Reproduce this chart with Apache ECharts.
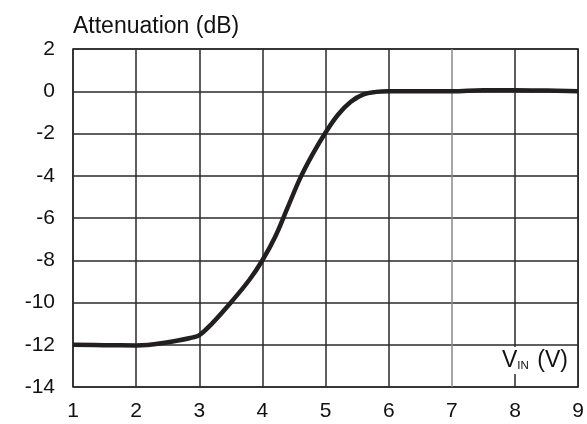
<!DOCTYPE html>
<html>
<head>
<meta charset="utf-8">
<script src="https://cdn.jsdelivr.net/npm/echarts@6/dist/echarts.min.js"></script>
<style>html,body{margin:0;padding:0;background:#fff}#c{width:587px;height:424px}</style>
</head>
<body>
<div id="c"></div>
<script>
const vin = [1, 1.5, 2, 2.5, 2.9, 3, 3.2, 3.5, 3.8, 4, 4.2, 4.4, 4.6, 4.8, 5, 5.2, 5.4, 5.6, 5.8, 6, 6.5, 7, 7.5, 8, 8.5, 9];
const attenuation = [-12, -12.02, -12.03, -11.88, -11.65, -11.55, -11.0, -10.0, -8.9, -8.0, -6.9, -5.5, -4.1, -2.95, -1.95, -1.1, -0.5, -0.15, -0.03, 0, 0, 0, 0.05, 0.05, 0.03, 0];
const xTicks = [1, 2, 3, 4, 5, 6, 7, 8, 9];
const yTicks = [-14, -12, -10, -8, -6, -4, -2, 0, 2];

const chart = echarts.init(document.getElementById('c'), null, {renderer: 'canvas'});
const font = 'Liberation Sans, Arial, sans-serif';
const dark = '#2a2a2a';
chart.setOption({
  animation: false,
  backgroundColor: '#fff',
  grid: {left: 73, right: 8, top: 49, bottom: 37, show: true, borderColor: dark, borderWidth: 1.5, backgroundColor: 'transparent'},
  xAxis: {
    type: 'value', min: xTicks[0], max: xTicks[xTicks.length - 1], interval: 1,
    axisLine: {show: false}, axisTick: {show: false},
    axisLabel: {color: '#111', fontFamily: font, fontSize: 21, margin: 14},
    splitLine: {show: true, lineStyle: {width: 1.5, color: xTicks.map(v => v === 7 ? '#8a8a8a' : dark)}}
  },
  yAxis: {
    type: 'value', min: yTicks[0], max: yTicks[yTicks.length - 1], interval: 2,
    name: 'Attenuation (dB)', nameLocation: 'end', nameGap: 11,
    nameTextStyle: {color: '#111', fontFamily: font, fontSize: 23, align: 'left', verticalAlign: 'bottom'},
    axisLine: {show: false}, axisTick: {show: false},
    axisLabel: {color: '#111', fontFamily: font, fontSize: 21, margin: 18},
    splitLine: {show: true, lineStyle: {width: 1.5, color: dark}}
  },
  graphic: [{
    type: 'text', left: 500, top: 347, z: 10,
    style: {
      rich: {
        a: {fontFamily: font, fontSize: 23, fill: '#111'},
        b: {fontFamily: font, fontSize: 11.5, fill: '#111', verticalAlign: 'bottom', padding: [9, 2, 0, 0]}
      },
      text: '{a|V}{b|IN}{a| (V)}',
      backgroundColor: '#fff', padding: [2, 2, 2, 2]
    }
  }],
  series: [{
    type: 'line', data: vin.map((v, i) => [v, attenuation[i]]),
    showSymbol: false, smooth: 0.4,
    lineStyle: {color: '#231f20', width: 4.5}
  }]
});
</script>
</body>
</html>
